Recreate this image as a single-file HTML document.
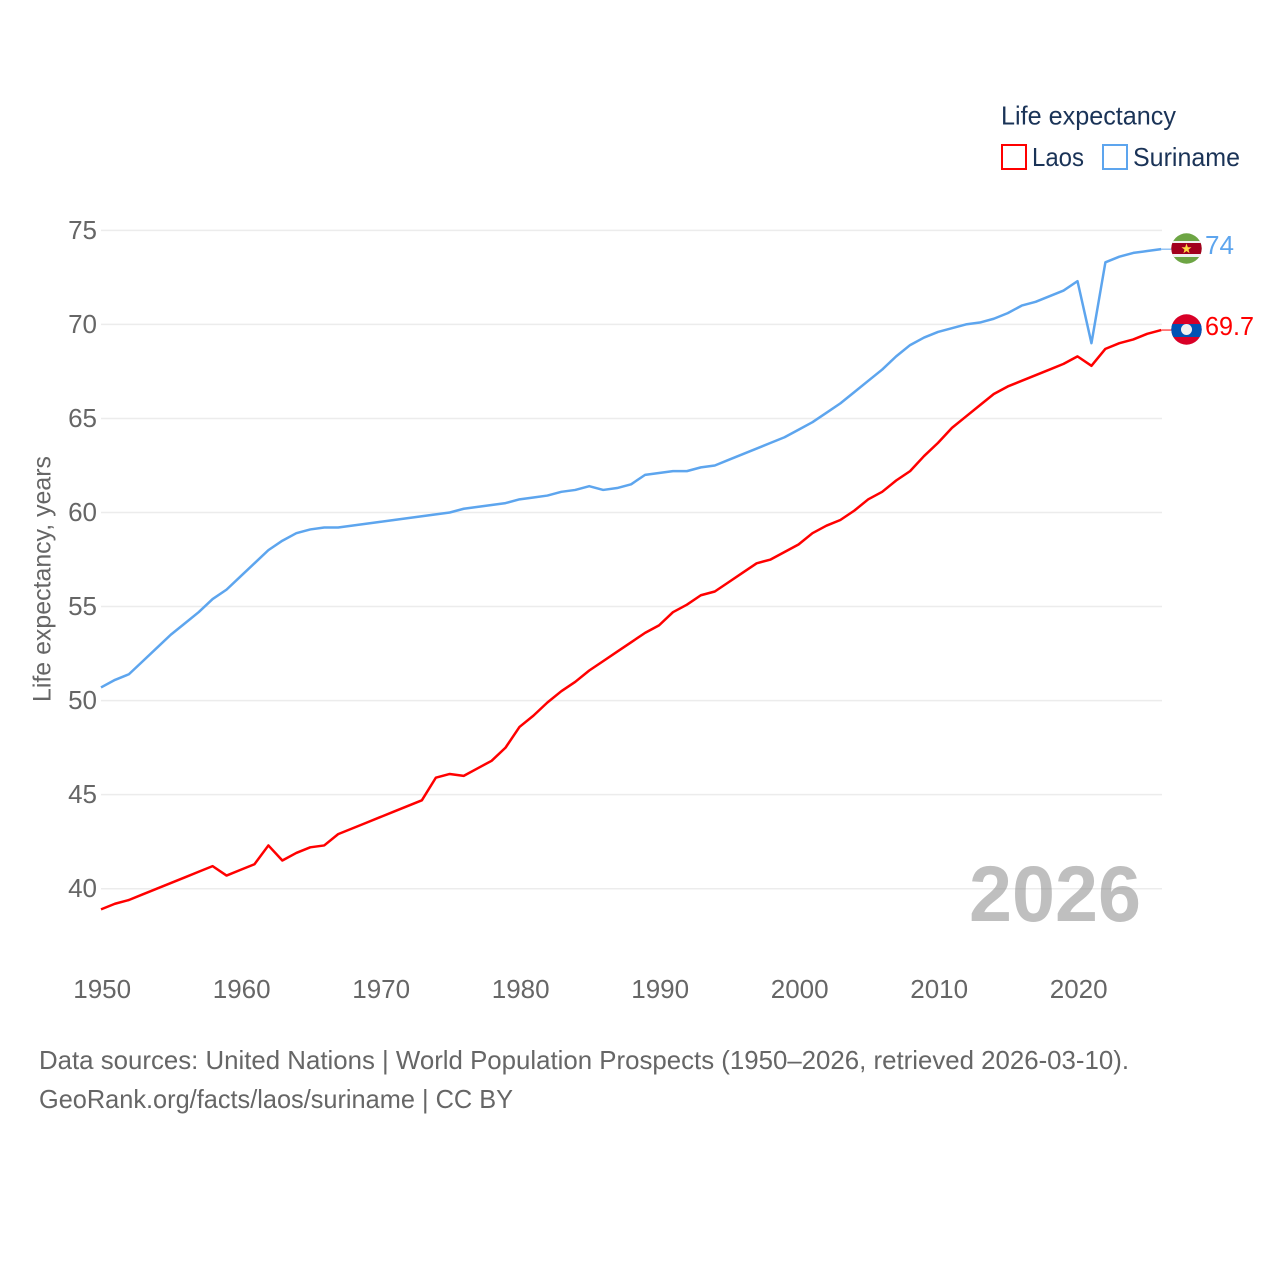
<!DOCTYPE html>
<html lang="en">
<head>
<meta charset="utf-8">
<title>Life expectancy: Laos and Suriname</title>
<style>
html,body{margin:0;padding:0;background:#fff;}
svg{display:block;font-family:"Liberation Sans",sans-serif;}
text{font-family:"Liberation Sans",sans-serif;}
</style>
</head>
<body>
<svg id="chart" xmlns="http://www.w3.org/2000/svg" width="1280" height="1280" viewBox="0 0 1280 1280">
  <defs>
    <clipPath id="flag-clip-sr"><circle cx="1186.5" cy="248.5" r="15.2"/></clipPath>
    <clipPath id="flag-clip-la"><circle cx="1186.5" cy="329.5" r="15.2"/></clipPath>
  </defs>
  <rect width="1280" height="1280" fill="#fff"/>
  <g id="grid"></g>
  <text x="1055" y="921" text-anchor="middle" font-size="79" font-weight="700" fill="#808080" fill-opacity="0.5" textLength="172" lengthAdjust="spacingAndGlyphs">2026</text>
  <g id="y-ticks"></g>
  <g id="x-ticks"></g>
  <text transform="translate(50.5,579) rotate(-90)" text-anchor="middle" font-size="25" fill="#666" textLength="246" lengthAdjust="spacingAndGlyphs">Life expectancy, years</text>
  <g id="series"></g>

  <g clip-path="url(#flag-clip-sr)">
    <rect x="1171" y="233" width="31" height="31" fill="#6DA544"/>
    <rect x="1171" y="241" width="31" height="16" fill="#F0F0F0"/>
    <rect x="1171" y="243" width="31" height="11" fill="#A2001D"/>
    <polygon points="1186.5,243.5 1187.8,247.2 1191.5,247.2 1188.5,249.6 1189.6,253.2 1186.5,251 1183.4,253.2 1184.5,249.6 1181.5,247.2 1185.2,247.2" fill="#FFDA44"/>
  </g>
  <g clip-path="url(#flag-clip-la)">
    <rect x="1171" y="314" width="31" height="31" fill="#D80027"/>
    <rect x="1171" y="324" width="31" height="13" fill="#0052B4"/>
    <circle cx="1186.5" cy="329.5" r="5.5" fill="#F0F0F0"/>
  </g>
  <text x="1205" y="254" font-size="26" fill="#5DA5EE" textLength="29" lengthAdjust="spacingAndGlyphs">74</text>
  <text x="1205" y="335" font-size="26" fill="#ff0000" textLength="49" lengthAdjust="spacingAndGlyphs">69.7</text>

  <g>
    <text x="1001" y="124.5" font-size="26" fill="#1A3357" textLength="175" lengthAdjust="spacingAndGlyphs">Life expectancy</text>
    <g>
      <rect x="1002" y="145" width="24" height="24" fill="#fff" stroke="#ff0000" stroke-width="2"/>
      <text x="1032" y="166" font-size="26" fill="#1A3357" textLength="52" lengthAdjust="spacingAndGlyphs">Laos</text>
    </g>
    <g>
      <rect x="1103" y="145" width="24" height="24" fill="#fff" stroke="#5DA5EE" stroke-width="2"/>
      <text x="1133" y="166" font-size="26" fill="#1A3357" textLength="107" lengthAdjust="spacingAndGlyphs">Suriname</text>
    </g>
  </g>

  <text x="39" y="1069" font-size="26" fill="#666" textLength="1090" lengthAdjust="spacingAndGlyphs">Data sources: United Nations | World Population Prospects (1950–2026, retrieved 2026-03-10).</text>
  <text x="39" y="1108" font-size="26" fill="#666" textLength="474" lengthAdjust="spacingAndGlyphs">GeoRank.org/facts/laos/suriname | CC BY</text>
</svg>
<script>
const startYear = 1950;
const yTickValues = [40, 45, 50, 55, 60, 65, 70, 75];
const xTickValues = [1950, 1960, 1970, 1980, 1990, 2000, 2010, 2020];
const laosValues = [
  38.9,39.2,39.4,39.7,40.0,40.3,40.6,40.9,41.2,40.7,
  41.0,41.3,42.3,41.5,41.9,42.2,42.3,42.9,43.2,43.5,
  43.8,44.1,44.4,44.7,45.9,46.1,46.0,46.4,46.8,47.5,
  48.6,49.2,49.9,50.5,51.0,51.6,52.1,52.6,53.1,53.6,
  54.0,54.7,55.1,55.6,55.8,56.3,56.8,57.3,57.5,57.9,
  58.3,58.9,59.3,59.6,60.1,60.7,61.1,61.7,62.2,63.0,
  63.7,64.5,65.1,65.7,66.3,66.7,67.0,67.3,67.6,67.9,
  68.3,67.8,68.7,69.0,69.2,69.5,69.7
];
const surinameValues = [
  50.7,51.1,51.4,52.1,52.8,53.5,54.1,54.7,55.4,55.9,
  56.6,57.3,58.0,58.5,58.9,59.1,59.2,59.2,59.3,59.4,
  59.5,59.6,59.7,59.8,59.9,60.0,60.2,60.3,60.4,60.5,
  60.7,60.8,60.9,61.1,61.2,61.4,61.2,61.3,61.5,62.0,
  62.1,62.2,62.2,62.4,62.5,62.8,63.1,63.4,63.7,64.0,
  64.4,64.8,65.3,65.8,66.4,67.0,67.6,68.3,68.9,69.3,
  69.6,69.8,70.0,70.1,70.3,70.6,71.0,71.2,71.5,71.8,
  72.3,69.0,73.3,73.6,73.8,73.9,74.0
];

const NS = 'http://www.w3.org/2000/svg';
function xScale(year) { return 101 + (year - 1950) * 13.95; }
function yScale(value) { return 888.7 - (value - 40) * 18.81; }
function make(tag, attrs, text) {
  const el = document.createElementNS(NS, tag);
  for (const k in attrs) el.setAttribute(k, attrs[k]);
  if (text !== undefined) el.textContent = text;
  return el;
}

const gridGroup = document.getElementById('grid');
const yGroup = document.getElementById('y-ticks');
yTickValues.forEach(function (v) {
  const line = make('line', { x1: 101, x2: 1162, y1: yScale(v), y2: yScale(v), stroke: '#ececec', 'stroke-width': 1.5 });
  
  
  gridGroup.appendChild(line);
  const label = make('text', { x: 97, y: yScale(v) + 8.5, 'text-anchor': 'end', 'font-size': 26, fill: '#666' }, String(v));
  
  
  yGroup.appendChild(label);
});

const xGroup = document.getElementById('x-ticks');
xTickValues.forEach(function (y) {
  const label = make('text', { x: xScale(y) + 1.2, y: 998, 'text-anchor': 'middle', 'font-size': 26, fill: '#666' }, String(y));
  
  
  xGroup.appendChild(label);
});

function linePoints(values) {
  return values.map(function (v, i) { return xScale(startYear + i).toFixed(2) + ',' + yScale(v).toFixed(2); }).join(' ');
}
const seriesGroup = document.getElementById('series');

const surinameLine = make('polyline', { points: linePoints(surinameValues), fill: 'none', stroke: '#5DA5EE', 'stroke-width': 2.5, 'stroke-linejoin': 'round' });


seriesGroup.appendChild(surinameLine);

const laosLine = make('polyline', { points: linePoints(laosValues), fill: 'none', stroke: '#ff0000', 'stroke-width': 2.5, 'stroke-linejoin': 'round' });


seriesGroup.appendChild(laosLine);

const lastYear = startYear + laosValues.length - 1;
const surinameConnector = make('line', { x1: xScale(lastYear), x2: 1172, y1: yScale(surinameValues[surinameValues.length - 1]), y2: yScale(surinameValues[surinameValues.length - 1]), stroke: '#5DA5EE', 'stroke-width': 1 });


seriesGroup.appendChild(surinameConnector);

const laosConnector = make('line', { x1: xScale(lastYear), x2: 1172, y1: yScale(laosValues[laosValues.length - 1]), y2: yScale(laosValues[laosValues.length - 1]), stroke: '#ff0000', 'stroke-width': 1 });


seriesGroup.appendChild(laosConnector);
</script>
</body>
</html>
